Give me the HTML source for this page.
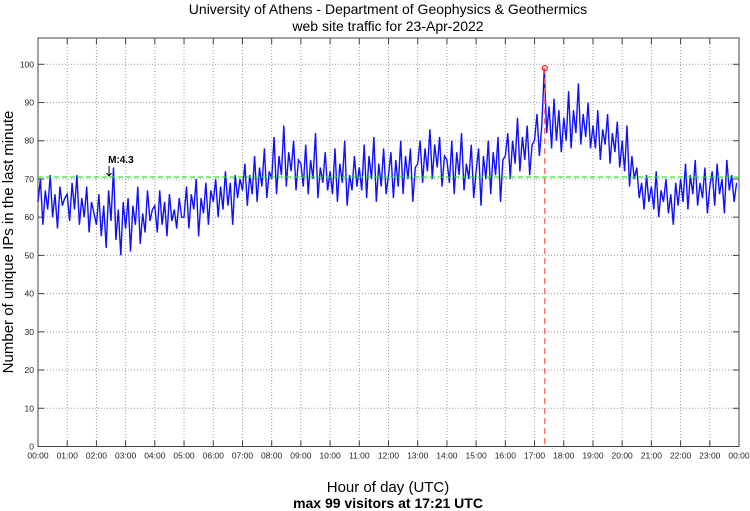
<!DOCTYPE html>
<html><head><meta charset="utf-8"><style>
body{margin:0;background:#fff;}
svg{display:block;font-family:"Liberation Sans",sans-serif;}
</style></head><body>
<svg id="chart" width="750" height="511">
<text x="388" y="14" text-anchor="middle" font-size="14">University of Athens - Department of Geophysics &amp; Geothermics</text>
<text x="388" y="31" text-anchor="middle" font-size="14">web site traffic for 23-Apr-2022</text>
<text transform="translate(13,242) rotate(-90)" text-anchor="middle" font-size="15">Number of unique IPs in the last minute</text>
<text x="388" y="492" text-anchor="middle" font-size="15">Hour of day (UTC)</text>
<text x="388" y="508" text-anchor="middle" font-size="14" font-weight="bold">max 99 visitors at 17:21 UTC</text>
<g id="grid"></g><g id="series"></g><g id="overlay"></g>
</svg>
<script>
const yTicks=[0,10,20,30,40,50,60,70,80,90,100];
const xTickLabels=["00:00","01:00","02:00","03:00","04:00","05:00","06:00","07:00","08:00","09:00","10:00","11:00","12:00","13:00","14:00","15:00","16:00","17:00","18:00","19:00","20:00","21:00","22:00","23:00","00:00"];
const meanValue=70.5;
const maxValue=99;
const maxHour=17+21/60;
const markerHour=2+26/60;
const markerLabel="M:4.3";
const visitors=[
64,70,58,67,62,71,60,66,57,68,63,65,
66,59,69,62,71,58,65,60,68,56,64,61,
58,66,55,63,52,67,59,73,54,62,50,64,
57,65,51,63,58,68,53,61,56,67,59,62,
63,56,67,58,64,55,66,59,62,57,65,60,
60,68,57,66,62,70,55,65,61,69,58,67,
64,70,60,68,62,72,63,69,58,71,65,70,
67,74,63,71,66,76,64,73,68,78,65,72,
70,81,66,76,71,84,68,77,72,80,67,75,
74,68,79,66,75,70,82,65,73,69,77,67,
72,66,78,64,74,69,80,63,71,67,76,68,
73,67,79,65,76,70,81,64,74,68,78,66,
71,77,65,75,68,80,66,76,70,78,64,73,
74,80,69,78,72,83,70,79,73,81,68,76,
75,69,80,66,77,71,82,67,74,70,79,65,
72,78,63,76,70,80,66,77,71,81,64,75,
76,82,70,80,74,86,72,81,75,84,71,79,
80,87,76,84,99,82,89,78,91,80,88,77,
86,80,93,78,88,82,95,79,87,81,90,78,
84,78,88,75,83,79,87,74,82,77,85,73,
80,72,84,68,76,70,73,65,69,62,71,64,
68,62,72,60,67,64,70,61,66,58,69,63,
70,64,74,62,71,66,75,63,69,65,73,61,
68,72,63,74,66,70,61,75,67,71,64,69];
const L=38,R=739,T=38,B=446.5;
const xs=h=>L+(R-L)*h/24;
const ys=v=>B-(B-64.3)*v/100;
const NS="http://www.w3.org/2000/svg";
function mk(parent,tag,attrs){const e=document.createElementNS(NS,tag);for(const k in attrs)e.setAttribute(k,attrs[k]);parent.appendChild(e);return e;}
const grid=document.getElementById('grid');
yTicks.forEach(v=>{
 const y=ys(v);
 if(v>0){const g=mk(grid,'line',{x1:L,x2:R,y1:y,y2:y,stroke:'#999','stroke-dasharray':'1,2','stroke-width':1});
 
 }
 mk(grid,'line',{x1:L,x2:L+6,y1:y,y2:y,stroke:'#444'});
 mk(grid,'line',{x1:R-6,x2:R,y1:y,y2:y,stroke:'#444'});
 const t=mk(grid,'text',{x:L-4,y:y+3,'text-anchor':'end','font-size':8.5,fill:'#222'});
 t.textContent=v;
 
 
});
xTickLabels.forEach((lab,i)=>{
 const x=xs(i);
 if(i>0&&i<24){const g=mk(grid,'line',{x1:x,x2:x,y1:T,y2:B,stroke:'#999','stroke-dasharray':'1,2','stroke-width':1});
 
 }
 mk(grid,'line',{x1:x,x2:x,y1:B-6,y2:B,stroke:'#444'});
 mk(grid,'line',{x1:x,x2:x,y1:T,y2:T+6,stroke:'#444'});
 const t=mk(grid,'text',{x:x,y:B+12,'text-anchor':'middle','font-size':8.5,fill:'#222'});
 t.textContent=lab;
 
 
});
const frame=mk(grid,'rect',{x:L,y:T,width:R-L,height:B-T,fill:'none',stroke:'#444','stroke-width':1});


const pts=visitors.map((v,i)=>xs(i*24/visitors.length).toFixed(1)+','+ys(v).toFixed(1)).join(' ');
const line=mk(document.getElementById('series'),'polyline',{points:pts,fill:'none',stroke:'#1010ff','stroke-width':1.4});


const ov=document.getElementById('overlay');
const mean=mk(ov,'line',{x1:L,x2:R,y1:ys(meanValue),y2:ys(meanValue),stroke:'#22dd22','stroke-dasharray':'5,3','stroke-width':1.2});


const mx=xs(maxHour);
const vl=mk(ov,'line',{x1:mx,x2:mx,y1:ys(maxValue),y2:B,stroke:'#ff5555','stroke-dasharray':'6,4','stroke-width':1.2});


const c=mk(ov,'circle',{cx:mx,cy:ys(maxValue),r:2.5,fill:'none',stroke:'#ff2222','stroke-width':1.2});


const ax=xs(markerHour);
const ar=mk(ov,'path',{d:`M${ax},${ys(meanValue)-11}V${ys(meanValue)-1}M${ax-2.5},${ys(meanValue)-4}L${ax},${ys(meanValue)-1}L${ax+2.5},${ys(meanValue)-4}`,stroke:'#000',fill:'none','stroke-width':1});


const ml=mk(ov,'text',{x:ax-1,y:ys(meanValue)-14,'font-size':10,'font-weight':'bold'});
ml.textContent=markerLabel;


</script>
</body></html>
